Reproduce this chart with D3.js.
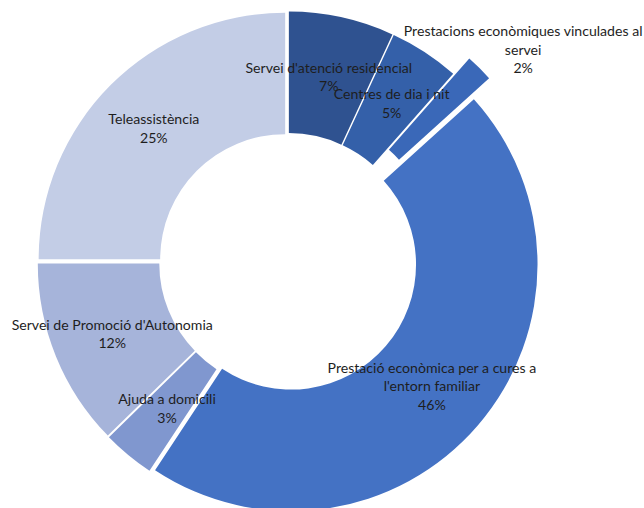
<!DOCTYPE html>
<html>
<head>
<meta charset="utf-8">
<script src="https://cdn.jsdelivr.net/npm/d3@7"></script>
<style>
  html, body { margin: 0; padding: 0; background: #fff; }
  svg { display: block; }
</style>
</head>
<body>
<svg id="chart" width="644" height="508"></svg>
<script>
const categories = [
  "Servei d'atenció residencial",
  "Centres de dia i nit",
  "Prestacions econòmiques vinculades al servei",
  "Prestació econòmica per a cures a l'entorn familiar",
  "Ajuda a domicili",
  "Servei de Promoció d'Autonomia",
  "Teleassistència"
];
const values = [6.9, 4.6, 1.8, 46.0, 3.4, 12.3, 25.0];
const colors = ["#2F5290", "#3460A9", "#3A68B8", "#4472C4", "#8097CF", "#A6B4DA", "#C3CDE6"];
const explode = [4, 4, 26, 4, 4, 4, 4];

const W = 644, H = 508;
const cx = 288, cy = 262;
const outerR = 246.5, innerR = 125;
const lineH = 18.5;

const svg = d3.select("#chart");
const total = d3.sum(values);
const data = categories.map((c, i) => ({ name: c, value: values[i], color: colors[i], explode: explode[i] }));

const pie = d3.pie().sort(null).value(d => d.value).startAngle(0).endAngle(2 * Math.PI);
const arcs = pie(data);
const arc = d3.arc().innerRadius(innerR).outerRadius(outerR);

const g = svg.append("g").attr("transform", `translate(${cx},${cy})`);

function offset(a, d) {
  const m = (a.startAngle + a.endAngle) / 2;
  return [d * Math.sin(m), -d * Math.cos(m)];
}

g.selectAll("path.slice")
  .data(arcs)
  .join("path")
  .attr("class", "slice")
  .attr("d", arc)
  .attr("fill", d => d.data.color)
  .attr("transform", d => {
    const [dx, dy] = offset(d, d.data.explode);
    return `translate(${dx},${dy})`;
  });

function wrap(text, maxChars) {
  const words = text.split(" ");
  const lines = [];
  let cur = "";
  words.forEach(w => {
    const t = cur ? cur + " " + w : w;
    if (t.length > maxChars && cur) { lines.push(cur); cur = w; }
    else cur = t;
  });
  if (cur) lines.push(cur);
  return lines;
}

const labels = g.selectAll("g.label")
  .data(arcs)
  .join("g")
  .attr("class", "label")
  .attr("transform", d => {
    let x, y;
    if (d.data.explode > 10) {
      // label moved outside the small exploded slice
      const a = d.endAngle, rr = 317;
      x = rr * Math.sin(a); y = -rr * Math.cos(a);
    } else {
      const [px, py] = arc.centroid(d);
      const [dx, dy] = offset(d, d.data.explode);
      x = px + dx; y = py + dy;
    }
    return `translate(${x},${y})`;
  });

labels.each(function(d) {
  const lines = wrap(d.data.name, 37);
  lines.push(Math.round(d.data.value / total * 100) + "%");
  const n = lines.length;
  d3.select(this).selectAll("text")
    .data(lines)
    .join("text")
    .attr("x", 0)
    .attr("y", (l, i) => (i - (n - 1) / 2) * lineH)
    .attr("text-anchor", "middle")
    .attr("dominant-baseline", "central")
    .attr("font-family", "Lato, 'Open Sans', sans-serif")
    .attr("font-size", "14.1px")
    .attr("fill", "#1e1e1e")
    .text(l => l);
});
</script>
</body>
</html>
